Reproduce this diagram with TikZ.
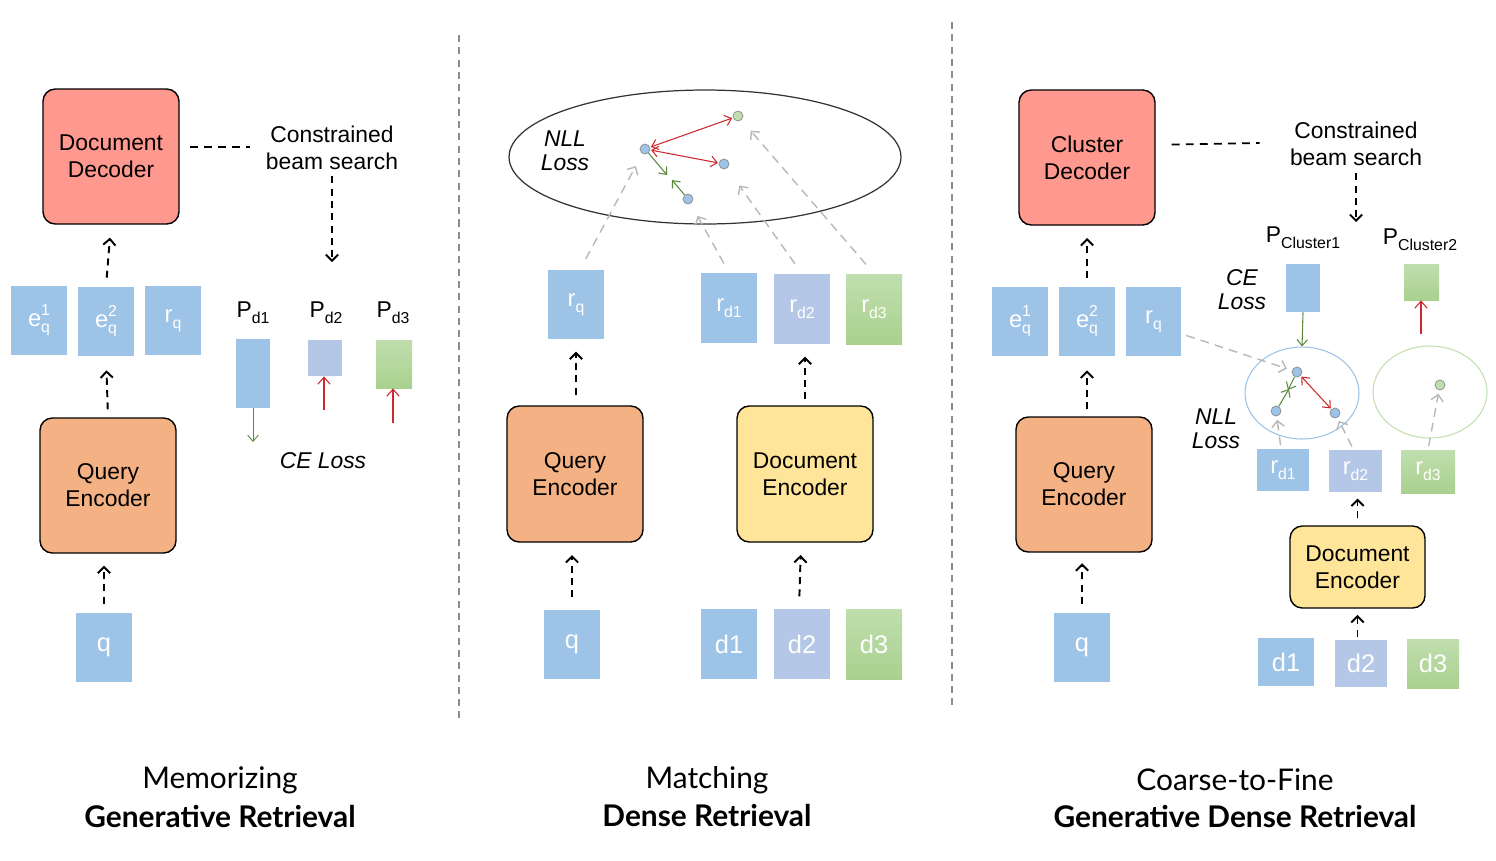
\documentclass[tikz,border=0pt]{standalone}
\usepackage{fontspec}
\setmainfont{Liberation Sans}
\newfontfamily\titlefont{Lato}
\usetikzlibrary{arrows.meta,shapes.geometric,calc}
\definecolor{cblue}{RGB}{157,195,230}
\definecolor{clav}{RGB}{180,199,231}
\definecolor{cgreen}{RGB}{169,209,142}
\definecolor{cgreenl}{RGB}{192,222,174}
\definecolor{cred}{RGB}{255,152,142}
\definecolor{corange}{RGB}{244,177,131}
\definecolor{cyellow}{RGB}{255,229,153}
\definecolor{arrred}{RGB}{205,40,45}
\definecolor{arrgreen}{RGB}{90,140,60}
\newcommand\dsub[1]{\raisebox{-0.5ex}{\fontsize{9}{9}\selectfont #1}}
\newcommand\eq[1]{e\makebox[0pt][l]{\raisebox{0.85ex}{\fontsize{9}{9}\selectfont #1}}\raisebox{-0.5ex}{\fontsize{9}{9}\selectfont q}}
\newcommand\pbox[7]{\node[pb,#6,minimum width={(#4-#2)*0.02cm},minimum height={(#5-#3)*0.02cm}] (#1) at ({(#2+#4)/2},{(#3+#5)/2}) {#7};}
\newcommand\bigb[7]{\node[bigbox,fill=#6,minimum width={(#4-#2)*0.02cm},minimum height={(#5-#3)*0.02cm}] (#1) at ({(#2+#4)/2},{(#3+#5)/2}) {#7};}
\begin{document}
\begin{tikzpicture}[x=0.02cm,y=-0.02cm,
  bigbox/.style={draw=black,line width=0.8pt,rounded corners=7pt,align=center,inner sep=0pt,font=\fontsize{13}{15.5}\selectfont},
  pb/.style={inner sep=0pt,text=white,font=\fontsize{13.5}{15}\selectfont},
  fb/.style={fill=cblue},
  fl/.style={fill=clav},
  fg/.style={top color=cgreenl,bottom color=cgreen},
  lbl/.style={inner sep=0pt,font=\fontsize{13}{15.5}\selectfont,align=center},
  ital/.style={inner sep=0pt,font=\fontsize{13}{13.6}\selectfont\itshape,align=center},
  tip/.style={-{Straight Barb[length=3.5pt,width=7pt]}},
  darr/.style={tip,dash pattern=on 4pt off 3pt,line width=1.1pt},
  dline/.style={dash pattern=on 4.5pt off 3.5pt,line width=1pt},
  garr/.style={-{Straight Barb[length=3.5pt,width=7pt]},draw=black!28,dash pattern=on 5pt off 3.5pt,line width=0.8pt},
  rarr/.style={{Straight Barb[length=3.5pt,width=6pt]}-{Straight Barb[length=3.5pt,width=6pt]},draw=arrred,line width=0.6pt},
  grn/.style={-{Straight Barb[length=3.5pt,width=6pt]},draw=arrgreen,line width=0.6pt},
  red1/.style={-{Straight Barb[length=4pt,width=7pt]},draw=arrred,line width=0.6pt},
  dot/.style={circle,draw=black!45,line width=0.4pt,minimum size=0.2cm,inner sep=0pt},
  divider/.style={draw=black!45,dash pattern=on 4pt off 3pt,line width=0.8pt},
  ttl/.style={inner sep=0pt,font=\titlefont\fontsize{17}{19}\selectfont},
  ttlb/.style={inner sep=0pt,font=\titlefont\bfseries\fontsize{17}{19}\selectfont}
]
\useasboundingbox (0,0) rectangle (1496,860);
\fill[white] (0,0) rectangle (1496,860);

% dividers
\coordinate (v1a) at (459,35); \coordinate (v1b) at (459,718);
\coordinate (v2a) at (952,22); \coordinate (v2b) at (952,706);
\draw[divider] (v1a) -- (v1b);
\draw[divider] (v2a) -- (v2b);

%%%%%%%%%%%% LEFT PANEL
\bigb{dd}{43}{89}{179}{224}{cred}{Document\\Decoder}
\bigb{qe1}{40}{418}{176}{553}{corange}{Query\\Encoder}
\node[lbl] (cbs1) at (332,148) {Constrained\\beam search};
\draw[dline] (dd.east |- cbs1.west) ++(10,-1) -- ($(cbs1.west)+(-16,-1)$);
\coordinate (cbs1end) at (332,262);
\draw[darr] ($(cbs1.south)+(0,6)$) -- (cbs1end);

\pbox{e11}{11}{286}{67}{355}{fb}{\eq{1}}
\pbox{e12}{78}{287}{134}{356}{fb}{\eq{2}}
\pbox{rq1}{145}{286}{201}{355}{fb}{r\dsub{q}}
\pbox{q1}{76}{613}{132}{682}{fb}{\fontsize{14.5}{16}\selectfont q}
\draw[darr,shorten <=9pt*0.567,shorten >=13pt*0.567] (e12.north) -- (dd.south);
\draw[darr,shorten <=8pt*0.567,shorten >=14pt*0.567] (qe1.north) -- (e12.south);
\draw[darr,shorten <=9pt*0.567,shorten >=12pt*0.567] (q1.north) -- (q1.north |- qe1.south);

\node[lbl] (pd1l) at (253,313) {P\dsub{d1}};
\node[lbl] (pd2l) at (326,313) {P\dsub{d2}};
\node[lbl] (pd3l) at (393,313) {P\dsub{d3}};
\pbox{pd1}{236}{339}{270}{408}{fb}{}
\pbox{pd2}{308}{340}{342}{376}{fl}{}
\pbox{pd3}{376}{340}{412}{388}{fg}{}
\coordinate (pd1e) at (253,442);
\coordinate (pd2s) at (324,410);
\coordinate (pd3s) at (393,423);
\draw[grn,line width=0.5pt] (pd1.south) -- (pd1e);
\draw[red1] (pd2s) -- (pd2s |- pd2.south);
\draw[red1] (pd3s) -- (pd3s |- pd3.south);
\node[ital] (ce1) at (323,461) {CE Loss};

%%%%%%%%%%%% MIDDLE PANEL
\node[ellipse,draw=black!80,line width=0.7pt,minimum width=7.84cm,minimum height=2.68cm,inner sep=0pt] (ell) at (705,157) {};
\node[ital] (nll2) at (565,151) {NLL\\Loss};
\node[dot,fill=cblue] (A2) at (645,149) {};
\node[dot,fill=cgreenl] (B2) at (738,116) {};
\node[dot,fill=cblue] (C2) at (724,164) {};
\node[dot,fill=cblue] (D2) at (688,199) {};
\draw[rarr,shorten <=0.5pt,shorten >=0.5pt] (A2) -- (B2);
\draw[rarr,shorten <=0.5pt,shorten >=0.5pt] (A2) -- (C2);
\coordinate (g2a) at (667,175);
\coordinate (g2b) at (672,180);
\draw[grn] (A2) -- (g2a);
\draw[grn] (D2) -- (g2b);

\pbox{rq2}{548}{270}{604}{339}{fb}{r\dsub{q}}
\pbox{rd21}{701}{273}{757}{343}{fb}{r\dsub{d1}}
\pbox{rd22}{774}{274}{830}{344}{fl}{r\dsub{d2}}
\pbox{rd23}{846}{274}{902}{344}{fg}{r\dsub{d3}}
\draw[garr,shorten <=7pt,shorten >=8pt] ($(rq2.north)+(4,0)$) -- (A2);
\draw[garr,shorten <=6pt,shorten >=8pt] (rd21.north) -- (D2);
\draw[garr,shorten <=7pt,shorten >=12pt] (rd22.north) -- (C2);
\draw[garr,shorten <=7pt,shorten >=8pt] (rd23.north) -- (B2);

\bigb{qe2}{507}{406}{643}{542}{corange}{Query\\Encoder}
\bigb{de2}{737}{406}{873}{542}{cyellow}{Document\\Encoder}
\draw[darr,shorten <=6pt,shorten >=7pt] (qe2.north -| rq2.south) -- (rq2.south);
\draw[darr,shorten <=3.5pt,shorten >=7pt] (de2.north) -- (de2.north |- rd22.south);

\pbox{q2}{544}{610}{600}{679}{fb}{\fontsize{14.5}{16}\selectfont q}
\pbox{d21}{701}{609}{757}{679}{fb}{\fontsize{14.5}{16}\selectfont d1}
\pbox{d22}{774}{609}{830}{679}{fl}{\fontsize{14.5}{16}\selectfont d2}
\pbox{d23}{846}{609}{902}{679}{fg}{\fontsize{14.5}{16}\selectfont d3}
\draw[darr,shorten <=7pt,shorten >=7pt] (q2.north) -- (q2.north |- qe2.south);
\draw[darr,shorten <=7pt,shorten >=7pt] (d22.north -| de2.south) ++(-6,0) -- ($(de2.south)+(-4,0)$);

%%%%%%%%%%%% RIGHT PANEL
\bigb{cd}{1019}{90}{1155}{225}{cred}{Cluster\\Decoder}
\node[lbl] (cbs3) at (1356,144) {Constrained\\beam search};
\draw[dline] ($(cd.east)+(16,-13)$) -- ($(cbs3.west)+(-30,-1)$);
\coordinate (cbs3end) at (1356,222);
\draw[darr] ($(cbs3.south)+(0,7)$) -- (cbs3end);

\pbox{e31}{992}{287}{1048}{356}{fb}{\eq{1}}
\pbox{e32}{1059}{287}{1115}{356}{fb}{\eq{2}}
\pbox{rq3}{1126}{287}{1181}{356}{fb}{r\dsub{q}}
\bigb{qe3}{1016}{417}{1152}{552}{corange}{Query\\Encoder}
\pbox{q3}{1054}{613}{1110}{682}{fb}{\fontsize{14.5}{16}\selectfont q}
\draw[darr,shorten <=5pt,shorten >=7pt] (e32.north -| cd.south) -- (cd.south);
\draw[darr,shorten <=4pt,shorten >=8pt] (qe3.north -| e32.south) -- (e32.south);
\draw[darr,shorten <=5pt,shorten >=6pt] (q3.north) -- (q3.north |- qe3.south);

\node[lbl] (pc1l) at (1303,238) {P\dsub{Cluster1}};
\node[lbl] (pc2l) at (1420,240) {P\dsub{Cluster2}};
\node[ital] (ce3) at (1242,290) {CE\\Loss};
\pbox{pc1}{1286}{264}{1320}{312}{fb}{}
\pbox{pc2}{1404}{264}{1439}{300}{fg}{}

\node[ellipse,draw=cblue,line width=0.6pt,minimum width=2.28cm,minimum height=1.84cm,inner sep=0pt] (ell1) at (1302,393) {};
\node[ellipse,draw=cgreen!70,line width=0.6pt,minimum width=2.28cm,minimum height=1.84cm,inner sep=0pt] (ell2) at (1430,392) {};
\draw[grn] (pc1.south) -- (ell1.north);
\coordinate (pc2s) at (1421,334);
\draw[red1] (pc2s) -- (pc2s |- pc2.south);

\node[dot,fill=cblue] (A3) at (1297,372) {};
\node[dot,fill=cblue] (B3) at (1276,411) {};
\node[dot,fill=cblue] (C3) at (1335,413) {};
\node[dot,fill=cgreenl] (G3) at (1440,385) {};
\draw[rarr,shorten <=0.5pt,shorten >=0.5pt] (A3) -- (C3);
\coordinate (g3a) at (1288,390);
\coordinate (g3b) at (1289,389);
\draw[grn] (A3) -- (g3a);
\draw[grn] (B3) -- (g3b);
\draw[garr,shorten >=3pt] ($(rq3.east)+(5,14)$) -- (A3);
\node[ital] (nll3) at (1216,429) {NLL\\Loss};

\pbox{rd31}{1257}{449}{1309}{491}{fb}{r\dsub{d1}}
\pbox{rd32}{1329}{450}{1382}{492}{fl}{r\dsub{d2}}
\pbox{rd33}{1401}{450}{1455}{493}{fg}{r\dsub{d3}}
\draw[garr,shorten <=2pt,shorten >=2pt] ($(rd31.north)+(-2,0)$) -- (B3);
\draw[garr,shorten <=2pt,shorten >=2pt] ($(rd32.north)+(-2,0)$) -- (C3);
\draw[garr,shorten <=2pt,shorten >=2pt] (rd33.north) -- (G3);

\bigb{de3}{1290}{526}{1425}{608}{cyellow}{Document\\Encoder}
\draw[darr,shorten <=4pt,shorten >=3.5pt] (de3.north) -- (de3.north |- rd32.south);
\pbox{d31}{1258}{638}{1314}{686}{fb}{\fontsize{14.5}{16}\selectfont d1}
\pbox{d32}{1335}{640}{1387}{687}{fl}{\fontsize{14.5}{16}\selectfont d2}
\pbox{d33}{1407}{639}{1459}{688}{fg}{\fontsize{14.5}{16}\selectfont d3}
\draw[darr,shorten <=0pt,shorten >=3.5pt] ($(d32.north -| de3.south)+(0,-3)$) -- (de3.south);

%%%%%%%%%%%% TITLES
\node[ttl] (t1a) at (220,780) {Memorizing};
\node[ttlb] (t1b) at (220,816) {Generative Retrieval};
\node[ttl] (t2a) at (707,780) {Matching};
\node[ttlb] (t2b) at (707,816) {Dense Retrieval};
\node[ttl] (t3a) at (1235,780) {Coarse-to-Fine};
\node[ttlb] (t3b) at (1235,816) {Generative Dense Retrieval};
\end{tikzpicture}
\end{document}
